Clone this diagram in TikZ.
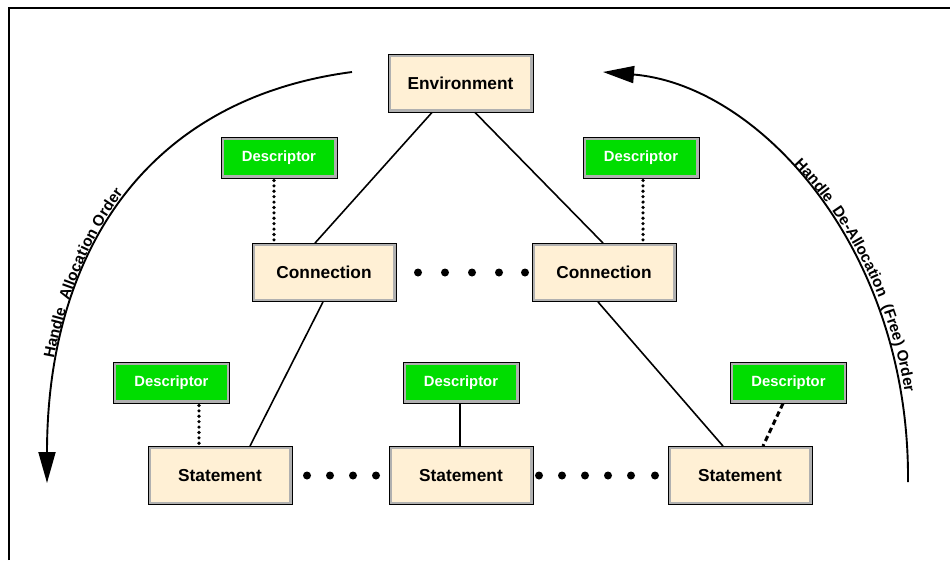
\documentclass[tikz,border=0pt]{standalone}
\usepackage{fontspec}
\setmainfont{Liberation Sans}
\usetikzlibrary{arrows.meta,decorations.text}
\definecolor{boxfill}{HTML}{FFF0D5}
\definecolor{descgreen}{HTML}{00DD00}
\definecolor{bevelgray}{HTML}{B0B0B0}
\newcommand{\arcfont}{\fontsize{15.3}{18}\selectfont\bfseries}
\begin{document}
\begin{tikzpicture}[x=1pt,y=1pt,
  bevel/.style={draw=black, line width=0.9pt,
    path picture={\draw[line width=5.5pt, draw=bevelgray]
      (path picture bounding box.south west) rectangle (path picture bounding box.north east);}},
  mainbox/.style={bevel, fill=boxfill, minimum width=144pt, minimum height=58pt, inner sep=0pt,
    font=\fontsize{17.3}{20}\selectfont\bfseries, text=black},
  descbox/.style={bevel, fill=descgreen, minimum width=116pt, minimum height=41pt, inner sep=0pt,
    font=\fontsize{14.8}{17}\selectfont\bfseries, text=white},
  link/.style={draw=black, line width=1.6pt},
  dotlink/.style={draw=black, line width=3.6pt, dash pattern=on 0pt off 5.4pt, line cap=round},
  dashlink/.style={draw=black, line width=3pt, dash pattern=on 5.5pt off 3.5pt},
  bigdot/.style={circle, fill=black, minimum size=8pt, inner sep=0pt},
  orderarc/.style={draw=black, line width=1.9pt, -{Triangle[length=31pt,width=17pt]}},
  frameline/.style={draw=black, line width=2pt}
]
\useasboundingbox (0,0) rectangle (950,-560);

% frame
\coordinate (F1) at (9,-560);
\coordinate (F2) at (9,-8);
\coordinate (F3) at (950,-8);
\draw[frameline] (F1) -- (F2) -- (F3);

% main boxes
\node[mainbox, minimum width=145pt] (Env) at (460.5,-83) {Environment};
\node[mainbox] (ConnL) at (324,-272.5) {Connection};
\node[mainbox] (ConnR) at (604,-272.5) {Connection};
\node[mainbox] (StL) at (220,-475.5) {Statement};
\node[mainbox] (StM) at (461,-475.5) {Statement};
\node[mainbox] (StR) at (740,-475.5) {Statement};

% descriptors
\node[descbox] (DL1) at (279,-157.5) {Descriptor};
\node[descbox] (DR1) at (641,-157.5) {Descriptor};
\node[descbox] (DL2) at (171.5,-382.5) {Descriptor};
\node[descbox] (DM) at (461,-382.5) {Descriptor};
\node[descbox] (DR2) at (788.5,-382.5) {Descriptor};

% solid links
\draw[link] ([xshift=-28.5pt]Env.south) -- ([xshift=-9pt]ConnL.north);
\draw[link] ([xshift=14.5pt]Env.south) -- ([xshift=-1pt]ConnR.north);
\draw[link] ([xshift=-1pt]ConnL.south) -- ([xshift=30pt]StL.north);
\draw[link] ([xshift=-6pt]ConnR.south) -- ([xshift=-17pt]StR.north);
\draw[link] ([xshift=-1pt]DM.south) -- ([xshift=-1pt]StM.north);

% dotted / dashed links
\draw[dotlink] ([xshift=-5pt,yshift=-2pt]DL1.south) -- ([xshift=-50pt]ConnL.north);
\draw[dotlink] ([xshift=2pt,yshift=-2pt]DR1.south) -- ([xshift=39pt]ConnR.north);
\draw[dotlink] ([xshift=27.5pt,yshift=-2pt]DL2.south) -- ([xshift=-21pt]StL.north);
\draw[dashlink] ([xshift=-5.5pt]DR2.south) -- ([xshift=23pt]StR.north);

% dot rows
\foreach \i/\x in {1/418,2/445,3/472,4/499,5/525}
  \node[bigdot] (cd\i) at (\x,-272.5) {};
\foreach \i/\x in {1/307,2/330,3/353,4/376}
  \node[bigdot] (sl\i) at (\x,-475.5) {};
\foreach \i/\x in {1/539,2/562,3/585,4/608,5/631,6/655}
  \node[bigdot] (sr\i) at (\x,-475.5) {};

% order arcs
\coordinate (LA1) at (352,-72);
\coordinate (LA2) at (47,-483);
\coordinate (RA1) at (603,-72);
\coordinate (RA2) at (908,-482);

\draw[orderarc] (LA1) .. controls (140,-100) and (47,-260) .. (LA2);
\draw[orderarc] (RA2) .. controls (910,-250) and (760,-85) .. (RA1);

\path[decorate, decoration={text along path,
   text={|\arcfont|Handle{ }{ }Allocation Order},
   raise=4pt, text align={left indent=124pt}}]
   (LA2) .. controls (47,-260) and (140,-100) .. (LA1);
\path[decorate, decoration={text along path,
   text={|\arcfont|Handle{ }{ }De-Allocation{ }{ }(Free) Order},
   raise=4pt, text align={left indent=215pt}}]
   (RA1) .. controls (760,-85) and (910,-250) .. (RA2);
\end{tikzpicture}
\end{document}
